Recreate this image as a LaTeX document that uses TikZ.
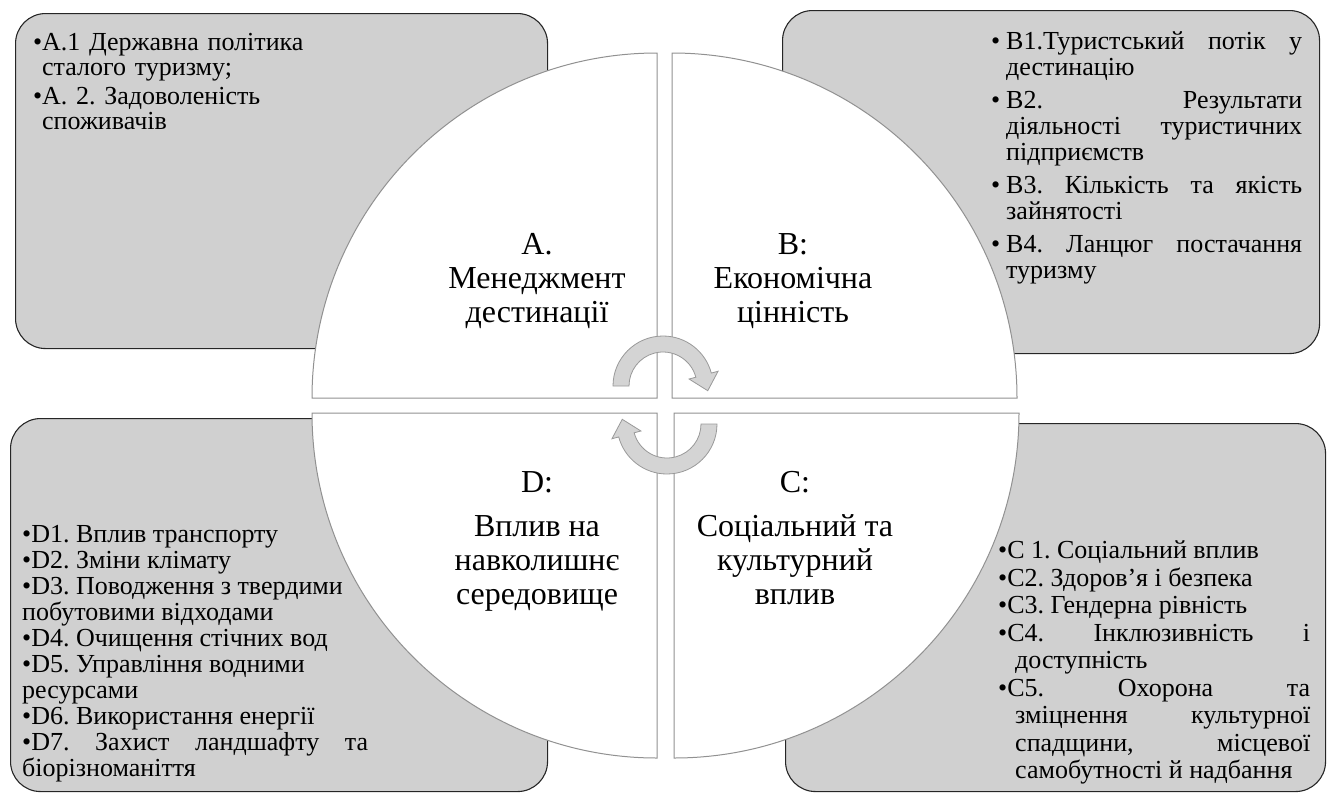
\documentclass[tikz,border=0pt]{standalone}
\usepackage{fontspec}
\setmainfont{Liberation Serif}
\usetikzlibrary{positioning}
\definecolor{boxgray}{RGB}{208,208,208}
\definecolor{rimgray}{RGB}{145,145,145}
\definecolor{arrowgray}{RGB}{212,212,212}
\hbadness=10000
\frenchspacing
\newcommand{\hangitem}[1]{\par\noindent\hangindent=#1\hangafter=1\makebox[#1][l]{•}\ignorespaces}
\newcommand{\tightitem}[1]{\par\noindent\hangindent=#1\hangafter=1 •\ignorespaces}
\tikzset{
infobox/.style={draw=black!85, line width=1.1pt, fill=boxgray, rounded corners=30pt, inner sep=0, anchor=north west},
quad/.style={draw=rimgray, line width=1pt, fill=white},
cyclearrow/.style={draw=gray!80, line width=0.8pt, fill=arrowgray},
qlabel/.style={anchor=north, align=center, inner sep=0, font=\fontsize{32}{34}\selectfont},
itemtext/.style={anchor=north west, inner sep=0, text width=#1, align=justify, font=\fontsize{26}{26}\selectfont}}

\begin{document}
\begin{tikzpicture}[x=1pt, y=-1pt]
\useasboundingbox (0,0) rectangle (1331,793);
% grey boxes behind the circle
\node[infobox, minimum width=532pt, minimum height=335pt] (boxA) at (15,13) {};
\node[infobox, minimum width=537pt, minimum height=343pt] (boxB) at (782,10) {};
\node[infobox, minimum width=537pt, minimum height=373pt] (boxD) at (10,418) {};
\node[infobox, minimum width=540pt, minimum height=368pt] (boxC) at (785,423) {};
% four quarters of the circle
\foreach \cx/\cy/\a in {657/398/180, 672/398/270, 674/413/0, 657/413/90}
  \draw[quad] (\cx,\cy) -- +(\a:345) arc[start angle=\a, delta angle=90, radius=345] -- cycle;
% round arrows in the middle
\foreach \cx/\cy/\rot in {663/386/0, 667/424/180}
  \draw[cyclearrow, shift={(\cx,\cy)}, rotate=\rot] (180:50) arc[start angle=180, end angle=345, radius=50]
    -- (345:57) -- (6:45) -- (345:27) -- (345:34) arc[start angle=345, end angle=180, radius=34] -- cycle;

\node[qlabel] (labA) at (537,233) {A.\\Менеджмент\\дестинації};
\node[qlabel] (labB) at (793,233) {B:\\Економічна\\цінність};
\node[qlabel] (labD) at (537,471) {D:\\[10pt]Вплив на\\навколишнє\\середовище};
\node[qlabel] (labC) at (795,471) {C:\\[10pt]Соціальний та\\культурний\\вплив};

\node[itemtext=350pt, align=left, font=\fontsize{26}{25}\selectfont] (txtA) at (33,21) {\setlength{\parskip}{4pt}%
\hangitem{9pt}А.1 Державна політика\newline сталого туризму;
\hangitem{9pt}А. 2. Задоволеність\newline споживачів\par};
\node[itemtext=311pt] (txtB) at (991,16) {\setlength{\parskip}{7pt}%
\hangitem{15pt}B1.Туристський потік у\linebreak дестинацію
\hangitem{15pt}B2. Результати\linebreak діяльності туристичних\linebreak підприємств
\hangitem{15pt}B3. Кількість та якість\linebreak зайнятості
\hangitem{15pt}B4. Ланцюг постачання\linebreak туризму\par};
\node[itemtext=312pt, font=\fontsize{26}{27.5}\selectfont] (txtC) at (998,531) {%
\tightitem{17pt}C 1. Соціальний вплив
\tightitem{17pt}C2. Здоров’я і безпека
\tightitem{17pt}C3. Гендерна рівність
\tightitem{17pt}C4. Інклюзивність і\linebreak доступність
\tightitem{17pt}C5. Охорона та\linebreak зміцнення культурної\linebreak спадщини, місцевої\linebreak самобутності й надбання\par};
\node[itemtext=346pt] (txtD) at (22,516) {%
\tightitem{0pt}D1. Вплив транспорту
\tightitem{0pt}D2. Зміни клімату
\tightitem{0pt}D3. Поводження з твердими\newline побутовими відходами
\tightitem{0pt}D4. Очищення стічних вод
\tightitem{0pt}D5. Управління водними\newline ресурсами
\tightitem{0pt}D6. Використання енергії
\tightitem{0pt}D7. Захист ландшафту та\linebreak біорізноманіття\par};
\end{tikzpicture}
\end{document}
